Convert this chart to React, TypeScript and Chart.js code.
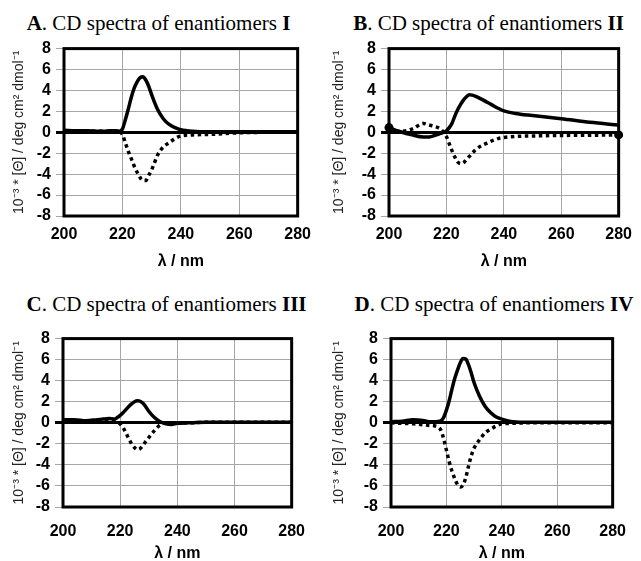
import React, { useEffect, useRef } from "react";
import { Chart, registerables } from "chart.js";
Chart.register(...registerables);

// wavelength grid (nm)
const wavelengths = [200, 204, 208, 212, 214, 216, 218, 219, 220, 221, 222, 223, 224, 225, 226, 227, 228, 229, 230, 232, 234, 236, 238, 240, 244, 250, 260, 270, 280];
const xTickValues = [200, 220, 240, 260, 280];
const yTickValues = [-8, -6, -4, -2, 0, 2, 4, 6, 8];

// Panel A – enantiomers I
const aSolid = [0.2, 0.15, 0.15, 0.1, 0.1, 0.15, 0.15, 0.1, 0.3, 1.2, 2.2, 3.3, 4.2, 4.8, 5.2, 5.3, 5.0, 4.4, 3.6, 2.2, 1.3, 0.75, 0.45, 0.25, 0.1, 0.05, 0.05, 0.05, 0.05];
const aDotted = [0.1, 0.1, 0.1, 0.1, 0.1, 0.1, 0.1, 0.05, -0.2, -1.0, -1.8, -2.5, -3.2, -3.8, -4.3, -4.6, -4.6, -4.1, -3.6, -2.2, -1.4, -1.0, -0.6, -0.35, -0.25, -0.2, -0.05, 0, 0];
// Panel B – enantiomers II
const bSolid = [0.45, 0.05, -0.25, -0.45, -0.45, -0.3, -0.1, 0.0, 0.15, 0.45, 0.9, 1.6, 2.2, 2.7, 3.1, 3.4, 3.6, 3.55, 3.45, 3.2, 2.9, 2.6, 2.3, 2.05, 1.8, 1.6, 1.3, 0.95, 0.7];
const bDotted = [0.15, 0.1, 0.3, 0.85, 0.7, 0.55, 0.3, 0.0, -0.4, -1.1, -1.8, -2.4, -2.85, -3.0, -2.9, -2.6, -2.3, -2.0, -1.7, -1.3, -1.05, -0.8, -0.6, -0.5, -0.4, -0.35, -0.3, -0.28, -0.25];
// Panel C – enantiomers III
const cSolid = [0.3, 0.3, 0.2, 0.3, 0.35, 0.4, 0.35, 0.5, 0.7, 0.95, 1.25, 1.55, 1.8, 2.0, 2.1, 2.05, 1.85, 1.5, 1.1, 0.5, 0.1, -0.1, -0.15, -0.05, 0.0, 0.05, 0.05, 0.05, 0.05];
const cDotted = [0.2, 0.15, 0.1, 0.1, 0.1, 0.1, 0.1, 0.05, -0.1, -0.45, -0.95, -1.5, -2.0, -2.35, -2.55, -2.45, -2.15, -1.75, -1.4, -0.75, -0.2, 0.0, 0.0, 0.0, 0.0, 0.05, 0.05, 0.05, 0.05];
// Panel D – enantiomers IV
const dSolid = [0.1, 0.15, 0.3, 0.2, 0.1, 0.1, 0.2, 0.5, 1.2, 2.1, 3.2, 4.2, 5.0, 5.7, 6.1, 6.05, 5.5, 4.7, 3.8, 2.5, 1.55, 0.95, 0.55, 0.35, 0.1, 0.05, 0.05, 0.05, 0.05];
const dDotted = [0.0, -0.05, -0.1, -0.2, -0.25, -0.3, -0.7, -1.5, -2.6, -3.7, -4.6, -5.3, -5.85, -6.1, -5.9, -5.2, -4.1, -3.1, -2.4, -1.6, -0.95, -0.6, -0.3, -0.1, -0.05, 0, 0, 0, 0];

const xTitle = "λ / nm";
const yTitle = "10⁻³ * [Θ] / deg cm² dmol⁻¹";

const SANS = '"Liberation Sans", Arial, sans-serif';
const SERIF = '"Liberation Serif", "Times New Roman", serif';

const framePlugin = {
  id: "frame",
  afterDatasetsDraw(chart: any) {
    const { ctx, chartArea } = chart;
    const { left, top, right, bottom } = chartArea;
    ctx.save();
    ctx.strokeStyle = "#000";
    ctx.lineWidth = 3;
    ctx.strokeRect(left, top, right - left, bottom - top);
    ctx.restore();
  },
};

type PanelCfg = {
  left: number; top: number; w: number; h: number;
  yAxisW: number; padTop: number; padRight: number; xAxisH: number; xTickPad: number;
  solid: number[]; dotted: number[];
  solidStartMarker?: boolean; dottedEndMarker?: boolean;
};

function Panel({ cfg }: { cfg: PanelCfg }) {
  const ref = useRef<HTMLCanvasElement>(null);
  useEffect(() => {
    const n = wavelengths.length;
    const chart = new Chart(ref.current!, {
      type: "line",
      data: {
        datasets: [
          {
            data: wavelengths.map((x, i) => ({ x, y: cfg.solid[i] })),
            borderColor: "#000",
            backgroundColor: "#000",
            borderWidth: 3.5,
            pointRadius: (c: any) => (cfg.solidStartMarker && c.dataIndex === 0 ? 4.5 : 0),
            pointBorderWidth: 0,
            cubicInterpolationMode: "monotone",
            clip: 8,
          },
          {
            data: wavelengths.map((x, i) => ({ x, y: cfg.dotted[i] })),
            borderColor: "#000",
            backgroundColor: "#000",
            borderWidth: 3.5,
            borderDash: [3.5, 3.5],
            borderCapStyle: "butt",
            pointRadius: (c: any) => (cfg.dottedEndMarker && c.dataIndex === n - 1 ? 4.5 : 0),
            pointBorderWidth: 0,
            cubicInterpolationMode: "monotone",
            clip: 8,
          },
        ],
      } as any,
      options: {
        responsive: false,
        animation: false,
        devicePixelRatio: 1,
        layout: { padding: { top: cfg.padTop, right: cfg.padRight, left: 0, bottom: 0 } },
        plugins: { legend: { display: false }, tooltip: { enabled: false }, title: { display: false } },
        scales: {
          x: {
            type: "linear",
            min: 200,
            max: 280,
            afterBuildTicks: (s: any) => { s.ticks = xTickValues.map((v) => ({ value: v })); },
            afterFit: (s: any) => { s.height = cfg.xAxisH; },
            grid: { color: "#a6a6a6", lineWidth: 1, drawTicks: false },
            border: { display: false },
            ticks: { autoSkip: false, padding: cfg.xTickPad, maxRotation: 0, color: "#000", font: { family: SANS, size: 16, weight: "bold" } },
            title: { display: true, text: xTitle, color: "#000", padding: 0, font: { family: SANS, size: 16, weight: "bold", lineHeight: 1 } },
          },
          y: {
            type: "linear",
            min: -8,
            max: 8,
            afterBuildTicks: (s: any) => { s.ticks = yTickValues.map((v) => ({ value: v })); },
            afterFit: (s: any) => { s.width = cfg.yAxisW; },
            grid: {
              color: (c: any) => (c.tick && c.tick.value === 0 ? "#000" : "#a6a6a6"),
              lineWidth: (c: any) => (c.tick && c.tick.value === 0 ? 3 : 1),
              drawTicks: true,
              tickLength: 8,
            },
            border: { display: false },
            ticks: { autoSkip: false, padding: 5, color: "#000", font: { family: SANS, size: 16, weight: "bold" } },
            title: { display: true, text: yTitle, color: "#222", padding: { top: 11, bottom: 0 }, font: { family: SANS, size: 14 } },
          },
        },
      } as any,
      plugins: [framePlugin],
    });
    return () => chart.destroy();
  }, []);
  return (
    <canvas
      ref={ref}
      width={cfg.w}
      height={cfg.h}
      style={{ position: "absolute", left: cfg.left, top: cfg.top, width: cfg.w, height: cfg.h }}
    />
  );
}

const panels: PanelCfg[] = [
  { left: 0, top: 34, w: 320, h: 236, yAxisW: 64, padTop: 10, padRight: 19, xAxisH: 54, xTickPad: 9, solid: aSolid, dotted: aDotted },
  { left: 320, top: 34, w: 321, h: 236, yAxisW: 69, padTop: 10, padRight: 15, xAxisH: 54, xTickPad: 9, solid: bSolid, dotted: bDotted, solidStartMarker: true, dottedEndMarker: true },
  { left: 0, top: 324, w: 320, h: 238, yAxisW: 63, padTop: 10, padRight: 19, xAxisH: 55, xTickPad: 15, solid: cSolid, dotted: cDotted },
  { left: 320, top: 324, w: 321, h: 238, yAxisW: 71, padTop: 10, padRight: 14, xAxisH: 55, xTickPad: 15, solid: dSolid, dotted: dDotted },
];

const titles = [
  { cx: 158.5, top: 12.5, letter: "A", numeral: "I" },
  { cx: 488.5, top: 12.5, letter: "B", numeral: "II" },
  { cx: 166.5, top: 294, letter: "C", numeral: "III" },
  { cx: 494, top: 294, letter: "D", numeral: "IV" },
];

export default function App() {
  return (
    <div style={{ position: "fixed", left: 0, top: 0, width: 641, height: 561, overflow: "hidden", background: "#fff" }}>
      {titles.map((t, i) => (
        <div
          key={"t" + i}
          style={{
            position: "absolute",
            left: t.cx - 170,
            width: 340,
            top: t.top,
            textAlign: "center",
            fontFamily: SERIF,
            fontSize: 21,
            lineHeight: "21px",
            whiteSpace: "nowrap",
            color: "#000",
          }}
        >
          <b>{t.letter}</b>. CD spectra of enantiomers <b>{t.numeral}</b>
        </div>
      ))}
      {panels.map((p, i) => (
        <Panel key={i} cfg={p} />
      ))}
    </div>
  );
}
